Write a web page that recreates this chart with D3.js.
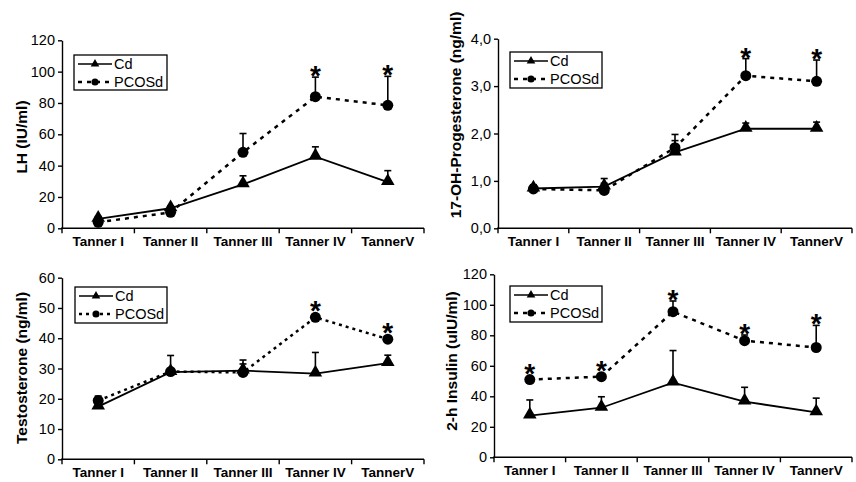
<!DOCTYPE html>
<html>
<head>
<meta charset="utf-8">
<script src="https://d3js.org/d3.v7.min.js"></script>
<style>
  body { margin: 0; background: #fff; }
  text { font-family: "Liberation Sans", Arial, sans-serif; fill: #000; }
</style>
</head>
<body>
<div id="my_dataviz"></div>
<script>
// categories
var stages = ["Tanner I", "Tanner II", "Tanner III", "Tanner IV", "TannerV"];

// LH (IU/ml)
var lhCd     = [6, 12.8, 28, 45.7, 29.5];
var lhCdSd   = [1.5, 1.5, 5.5, 6.3, 7.3];
var lhPcos   = [3.8, 10.2, 48.5, 84, 78.5];
var lhPcosSd = [0, 1.5, 12, 12.5, 18.5];
var lhStars  = [0, 0, 0, 1, 1];
var lhTicks  = [0, 20, 40, 60, 80, 100, 120];

// 17-OH-Progesterone (ng/ml)
var ohpCd     = [0.84, 0.88, 1.6, 2.1, 2.1];
var ohpCdSd   = [0.08, 0.17, 0.25, 0.12, 0.14];
var ohpPcos   = [0.83, 0.8, 1.7, 3.22, 3.1];
var ohpPcosSd = [0.07, 0.15, 0.28, 0.36, 0.45];
var ohpStars  = [0, 0, 0, 1, 1];
var ohpTicks  = [0, 1, 2, 3, 4];

// Testosterone (ng/ml)
var tCd     = [17.4, 28.8, 29.3, 28.3, 31.8];
var tCdSd   = [0, 5.5, 3.5, 7, 2.6];
var tPcos   = [19.4, 29, 28.7, 46.9, 39.7];
var tPcosSd = [1.5, 0, 2.8, 0, 0];
var tStars  = [0, 0, 0, 1, 1];
var tTicks  = [0, 10, 20, 30, 40, 50, 60];

// 2-h Insulin (uIU/ml)
var insCd     = [27.3, 32.5, 49, 36.5, 29.5];
var insCdSd   = [10.3, 7.2, 21, 9.4, 9.3];
var insPcos   = [51, 52.9, 95.5, 76.5, 72];
var insPcosSd = [0, 0, 7, 3.7, 14.5];
var insStars  = [1, 1, 1, 1, 1];
var insTicks  = [0, 20, 40, 60, 80, 100, 120];

var svg = d3.select("#my_dataviz")
  .append("svg")
    .attr("width", 856)
    .attr("height", 482);

var triangle = d3.symbol().type(d3.symbolTriangle);
var circle = d3.symbol().type(d3.symbolCircle);

function drawPanel(p) {
  var g = svg.append("g");

  var x = d3.scaleBand().domain(stages).range([p.left, p.right]);
  var y = d3.scaleLinear().domain([0, p.max]).range([p.bottom, p.top]);
  var cx = function(i) { return x(stages[i]) + x.bandwidth() / 2; };

  // y axis
  g.append("g")
    .attr("transform", "translate(" + p.left + ",0)")
    .call(d3.axisLeft(y).tickValues(p.ticks).tickSize(4).tickPadding(3).tickSizeOuter(0)
      .tickFormat(p.fmt))
    .call(function(a) {
      a.selectAll("text").style("font-size", "14.5px").attr("font-family", null);
      a.selectAll("line, path").attr("stroke", "#000").attr("stroke-width", 1.4);
    });

  // x axis line + boundary ticks
  g.append("line")
    .attr("x1", p.left - 1).attr("x2", p.right)
    .attr("y1", p.bottom).attr("y2", p.bottom)
    .attr("stroke", "#000").attr("stroke-width", 1.6);
  var bounds = stages.map(function(s) { return x(s); }).concat([x.range()[1]]);
  g.selectAll(".xt").data(bounds).enter().append("line")
    .attr("x1", function(d) { return d; }).attr("x2", function(d) { return d; })
    .attr("y1", p.bottom).attr("y2", p.bottom + 5)
    .attr("stroke", "#000").attr("stroke-width", 1.4);
  g.selectAll(".xl").data(stages).enter().append("text")
    .attr("x", function(d) { return x(d) + x.bandwidth() / 2; })
    .attr("y", p.bottom + 18)
    .attr("text-anchor", "middle")
    .style("font-size", "13.5px")
    .style("font-weight", "bold")
    .text(function(d) { return d; });

  // y label
  g.append("text")
    .attr("transform", "translate(" + p.labelX + "," + p.labelY + ") rotate(-90)")
    .attr("text-anchor", "middle")
    .style("font-size", "15.5px")
    .style("font-weight", "bold")
    .text(p.label);

  var line = d3.line().x(function(d, i) { return cx(i); }).y(function(d) { return y(d); });

  // error bars (upper only)
  function errBars(vals, sds) {
    vals.forEach(function(v, i) {
      if (!sds[i]) return;
      var top = y(v + sds[i]);
      g.append("line").attr("x1", cx(i)).attr("x2", cx(i))
        .attr("y1", y(v)).attr("y2", top)
        .attr("stroke", "#000").attr("stroke-width", 1.6);
      g.append("line").attr("x1", cx(i) - 3.5).attr("x2", cx(i) + 3.5)
        .attr("y1", top).attr("y2", top)
        .attr("stroke", "#000").attr("stroke-width", 1.6);
    });
  }
  errBars(p.cd, p.cdSd);
  errBars(p.pcos, p.pcosSd);

  g.append("path").datum(p.cd)
    .attr("d", line).attr("fill", "none")
    .attr("stroke", "#000").attr("stroke-width", 1.8);
  g.append("path").datum(p.pcos)
    .attr("d", line).attr("fill", "none")
    .attr("stroke", "#000").attr("stroke-width", 2.5)
    .attr("stroke-dasharray", p.dash);

  g.selectAll(".tri").data(p.cd).enter().append("path")
    .attr("d", triangle.size(80))
    .attr("transform", function(d, i) { return "translate(" + cx(i) + "," + (y(d) - 1) + ")"; })
    .attr("fill", "#000");
  g.selectAll(".cir").data(p.pcos).enter().append("path")
    .attr("d", circle.size(95))
    .attr("transform", function(d, i) { return "translate(" + cx(i) + "," + y(d) + ")"; })
    .attr("fill", "#000");

  // significance stars
  p.stars.forEach(function(s, i) {
    if (!s) return;
    var anchor = p.pcosSd[i] ? y(p.pcos[i] + p.pcosSd[i]) : y(p.pcos[i]) - 5;
    g.append("text")
      .attr("x", cx(i))
      .attr("y", anchor - 8 + 16)
      .attr("text-anchor", "middle")
      .style("font-size", "28px")
      .style("font-weight", "bold")
      .text("*");
  });

  // legend
  var L = p.legend;
  g.append("rect").attr("x", L.x).attr("y", L.y).attr("width", L.w).attr("height", L.h)
    .attr("fill", "#fff").attr("stroke", "#000").attr("stroke-width", 1.3);
  var rows = [{name: "Cd", dash: null, sym: triangle.size(32), w: 1.7},
              {name: "PCOSd", dash: p.dash, sym: circle.size(40), w: 2.3}];
  rows.forEach(function(r, k) {
    var ly = L.y + 9 + k * 18;
    g.append("line").attr("x1", L.x + 4).attr("x2", L.x + 38)
      .attr("y1", ly).attr("y2", ly)
      .attr("stroke", "#000").attr("stroke-width", r.w)
      .attr("stroke-dasharray", r.dash);
    g.append("path").attr("d", r.sym)
      .attr("transform", "translate(" + (L.x + 21) + "," + ly + ")")
      .attr("fill", "#000");
    g.append("text").attr("x", L.x + 40).attr("y", ly + 5)
      .style("font-size", "14.5px")
      .text(r.name);
  });
}

var fmtInt = d3.format("d");
var fmtComma = function(d) { return d3.format(".1f")(d).replace(".", ","); };

drawPanel({left: 62, right: 424, top: 40.3, bottom: 228.3, max: 120, ticks: lhTicks, fmt: fmtInt,
  label: "LH (IU/ml)", labelX: 27, labelY: 137, dash: "4,5",
  cd: lhCd, cdSd: lhCdSd, pcos: lhPcos, pcosSd: lhPcosSd, stars: lhStars,
  legend: {x: 74, y: 55, w: 93, h: 35}});

drawPanel({left: 498, right: 852, top: 38.7, bottom: 228.3, max: 4, ticks: ohpTicks, fmt: fmtComma,
  label: "17-OH-Progesterone (ng/ml)", labelX: 461, labelY: 115, dash: "4,5",
  cd: ohpCd, cdSd: ohpCdSd, pcos: ohpPcos, pcosSd: ohpPcosSd, stars: ohpStars,
  legend: {x: 510, y: 52, w: 92, h: 36}});

drawPanel({left: 62, right: 424, top: 277.7, bottom: 459.3, max: 60, ticks: tTicks, fmt: fmtInt,
  label: "Testosterone (ng/ml)", labelX: 27, labelY: 368, dash: "3,4",
  cd: tCd, cdSd: tCdSd, pcos: tPcos, pcosSd: tPcosSd, stars: tStars,
  legend: {x: 75, y: 287, w: 92, h: 36}});

drawPanel({left: 494, right: 852, top: 274.3, bottom: 457.3, max: 120, ticks: insTicks, fmt: fmtInt,
  label: "2-h Insulin (uIU/ml)", labelX: 457, labelY: 361, dash: "4,5",
  cd: insCd, cdSd: insCdSd, pcos: insPcos, pcosSd: insPcosSd, stars: insStars,
  legend: {x: 510, y: 286, w: 92, h: 36}});
</script>
</body>
</html>
